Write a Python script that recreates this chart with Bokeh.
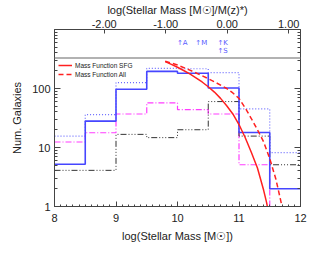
from bokeh.plotting import figure
from bokeh.models import (Range1d, LinearAxis, LogAxis, FixedTicker, SingleIntervalTicker,
                          BasicTickFormatter, PrintfTickFormatter, CustomJSTickFormatter,
                          Legend, LegendItem, Span)
from bokeh.core.properties import value
from bokeh.embed import file_html
from bokeh.resources import INLINE

# ---------------- data ----------------
bin_edges = [8.0, 8.5, 9.0, 9.5, 10.0, 10.5, 11.0, 11.5, 12.0]
n_blue_solid = [5.2, 28, 97, 195, 181, 102, 18, 2.0]
n_blue_dotted = [15.6, 36, 126, 219, 216, 186, 45, 8.2]
n_magenta = [12.4, 17.8, 37, 57, 44, 37, 5.1, 1.0]
n_black = [4.1, 4.1, 16.7, 14.7, 20, 60, 15.6, 5.1]

mf_sfg_x = [9.8, 9.9, 10.0, 10.1, 10.2, 10.3, 10.4, 10.5, 10.6, 10.7, 10.8, 10.9,
            11.0, 11.1, 11.2, 11.3, 11.4, 11.45, 11.5]
mf_sfg_y = [286, 257, 229, 202, 177, 152, 129, 107, 87, 68, 51, 37,
            24.5, 14.8, 8.3, 4.5, 1.9, 1.15, 0.6]
mf_all_x = [9.8, 10.0, 10.2, 10.4, 10.6, 10.8, 10.9, 11.0, 11.1, 11.2, 11.3, 11.4,
            11.5, 11.6, 11.7, 11.75]
mf_all_y = [290, 250, 205, 165, 130, 100, 84, 68, 47, 31, 20, 12.5,
            6.5, 2.9, 1.0, 0.6]

mark_x = [9.99, 10.29, 10.65, 10.65]
mark_y = [600, 600, 600, 425]
mark_text = ["\u2191A", "\u2191M", "\u2191K", "\u2191S"]

panel_split = 330
mstar_ref = 10.808

y_major = [1, 10, 100]
y_minor = [2, 3, 4, 5, 6, 7, 8, 9, 20, 30, 40, 50, 60, 70, 80, 90,
           200, 300, 400, 500, 600, 700, 800, 900]
top_ticks = [-2, -1, 0, 1]

# ---------------- styling ----------------
FONT = "Liberation Sans"
TXT = "#222222"
AX = "#444444"

p = figure(frame_width=246, frame_height=177, x_range=Range1d(8, 12),
           y_range=Range1d(1, 1000), y_axis_type="log",
           output_backend="svg", toolbar_location=None,
           min_border_left=54, min_border_right=11, min_border_top=0, min_border_bottom=0,
           background_fill_color="white", border_fill_color="white")
p.xgrid.visible = False
p.ygrid.visible = False
p.outline_line_color = AX
p.outline_line_width = 1

def style_axis(ax, label_size="11px"):
    ax.axis_line_color = AX
    ax.major_tick_line_color = AX
    ax.minor_tick_line_color = AX
    ax.major_tick_out = 0
    ax.minor_tick_out = 0
    ax.major_label_text_font = FONT
    ax.major_label_text_font_size = label_size
    ax.major_label_text_color = TXT
    ax.axis_label_text_font = FONT
    ax.axis_label_text_font_size = "11px"
    ax.axis_label_text_font_style = "normal"
    ax.axis_label_text_color = TXT

# bottom x axis
xa = p.xaxis[0]
style_axis(xa)
xa.ticker = SingleIntervalTicker(interval=1, num_minor_ticks=10)
xa.major_tick_in = 5
xa.minor_tick_in = 2
xa.major_label_standoff = 7
xa.axis_label = "log(Stellar Mass [M\u2609])"
xa.axis_label_standoff = 5

# left y axis
ya = p.yaxis[0]
style_axis(ya)
ya.ticker = FixedTicker(ticks=y_major, minor_ticks=y_minor)
ya.formatter = BasicTickFormatter()
ya.major_tick_in = 6
ya.minor_tick_in = 3
ya.major_label_standoff = 4
ya.axis_label = "Num. Galaxies"
ya.axis_label_standoff = 6

# right mirrored y axis
yr = LogAxis(ticker=FixedTicker(ticks=y_major, minor_ticks=y_minor),
             formatter=CustomJSTickFormatter(code="return ''"))
style_axis(yr)
yr.major_tick_in = 6
yr.minor_tick_in = 3
yr.major_label_standoff = 0
p.add_layout(yr, "right")

# top axis
p.extra_x_ranges = {"mstar": Range1d(8 - mstar_ref, 12 - mstar_ref)}
xt = LinearAxis(x_range_name="mstar", ticker=FixedTicker(ticks=top_ticks, minor_ticks=[]),
                formatter=PrintfTickFormatter(format="%.2f"))
style_axis(xt)
xt.major_tick_in = 4
xt.minor_tick_in = 0
xt.major_label_standoff = 2
xt.axis_label = "log(Stellar Mass [M\u2609]/M(z)*)"
xt.axis_label_standoff = 1
p.add_layout(xt, "above")

# divider between panels
p.add_layout(Span(location=panel_split, dimension="width", line_color="#999999", line_width=1.5))

# histograms
def hist(vals, color, dash, width):
    xs = bin_edges
    ys = list(vals) + [vals[-1]]
    return p.step(xs, ys, mode="after", line_color=color, line_dash=dash, line_width=width)

hist(n_blue_dotted, "#6b6bff", "1 2", 1.2)
hist(n_magenta, "#ff3cff", "6 2 1 2", 1.2)
hist(n_black, "#333333", "6 2 1 2 1 2 1 2", 1.0)
hist(n_blue_solid, "#4646ff", "solid", 1.6)

r_sfg = p.line(mf_sfg_x, mf_sfg_y, line_color="#ff2020", line_width=1.5)
r_all = p.line(mf_all_x, mf_all_y, line_color="#ff2020", line_width=1.5, line_dash="5 3")

# markers in the upper panel
p.text(x=mark_x, y=mark_y, text=mark_text, text_font=value("DejaVu Sans"),
       text_font_size="7px", text_color="#5a5aff", text_align="left", text_baseline="middle")

legend = Legend(items=[LegendItem(label="Mass Function SFG", renderers=[r_sfg]),
                       LegendItem(label="Mass Function All", renderers=[r_all])],
                location=(4, 128), background_fill_alpha=0, border_line_color=None,
                label_text_font=FONT, label_text_font_size="6.5px", label_text_color=TXT,
                glyph_width=14, glyph_height=8, label_height=8, spacing=1,
                padding=0, margin=0, label_standoff=3)
p.add_layout(legend)

open("out.html", "w").write(file_html(p, INLINE))
